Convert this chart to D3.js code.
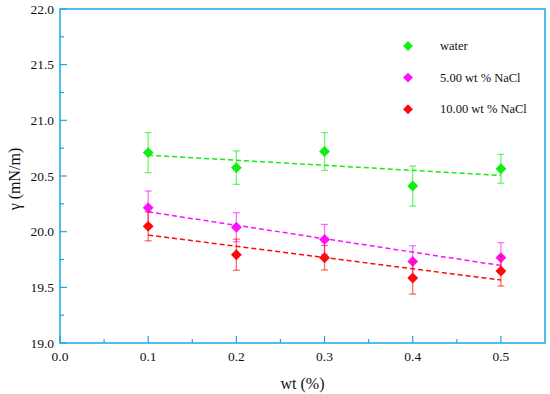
<!DOCTYPE html>
<html lang="en">
<head>
<meta charset="UTF-8">
<title>Surface tension vs wt</title>
<script src="https://d3js.org/d3.v7.min.js"></script>
<style>
    body { margin: 0; background: #fff; }
</style>
</head>
<body>
<div id="chart"></div>
<script>
    // values
    const wt = [0.1, 0.2, 0.3, 0.4, 0.5];
    const seriesNames = ["water", "5.00 wt % NaCl", "10.00 wt % NaCl"];
    const seriesColors = ["#11ee11", "#ff11ff", "#ff0a0a"];
    const waterY = [20.71, 20.575, 20.72, 20.41, 20.565];
    const waterErr = [0.18, 0.15, 0.17, 0.18, 0.13];
    const nacl5Y = [20.215, 20.04, 19.93, 19.733, 19.766];
    const nacl5Err = [0.15, 0.13, 0.135, 0.14, 0.135];
    const nacl10Y = [20.048, 19.793, 19.766, 19.584, 19.647];
    const nacl10Err = [0.13, 0.14, 0.11, 0.145, 0.135];
    const xTicks = [0.0, 0.1, 0.2, 0.3, 0.4, 0.5];
    const yTicks = [19.0, 19.5, 20.0, 20.5, 21.0, 21.5, 22.0];

    const w = 550, h = 394;
    const m = {top: 9, right: 5, bottom: 51, left: 60};

    const svg = d3.select("#chart").append("svg")
        .attr("width", w).attr("height", h);

    const x = d3.scaleLinear().domain([0, 0.55]).range([m.left, w - m.right]);
    const y = d3.scaleLinear().domain([19, 22]).range([h - m.bottom, m.top]);

    const axisColor = "#1aa7ec";

    function label(sel) {
        return sel.style("font-family", '"Liberation Serif"').attr("fill", "#111");
    }

    // minor ticks
    const xMinor = d3.range(0.05, 0.55, 0.1);
    const yMinor = d3.range(19.25, 22, 0.5);

    svg.append("g").selectAll("line").data(xMinor).join("line")
        .attr("x1", d => x(d)).attr("x2", d => x(d))
        .attr("y1", y(19)).attr("y2", y(19) - 4)
        .attr("stroke", axisColor).attr("stroke-width", 1.2);
    svg.append("g").selectAll("line").data(xTicks).join("line")
        .attr("x1", d => x(d)).attr("x2", d => x(d))
        .attr("y1", y(19)).attr("y2", y(19) - 7)
        .attr("stroke", axisColor).attr("stroke-width", 1.2);
    svg.append("g").selectAll("line").data(yMinor).join("line")
        .attr("x1", x(0)).attr("x2", x(0) + 4)
        .attr("y1", d => y(d)).attr("y2", d => y(d))
        .attr("stroke", axisColor).attr("stroke-width", 1.2);
    svg.append("g").selectAll("line").data(yTicks).join("line")
        .attr("x1", x(0)).attr("x2", x(0) + 7)
        .attr("y1", d => y(d)).attr("y2", d => y(d))
        .attr("stroke", axisColor).attr("stroke-width", 1.2);

    // frame
    svg.append("rect")
        .attr("x", x(0)).attr("y", y(22))
        .attr("width", x(0.55) - x(0)).attr("height", y(19) - y(22))
        .attr("fill", "none").attr("stroke", axisColor).attr("stroke-width", 1.5);

    // tick labels
    svg.append("g").selectAll("text").data(xTicks).join("text")
        .attr("x", d => x(d)).attr("y", y(19) + 18)
        .attr("text-anchor", "middle").attr("font-size", 13.5)
        .text(d => d3.format(".1f")(d))
        .call(label);
    svg.append("g").selectAll("text").data(yTicks).join("text")
        .attr("x", x(0) - 6).attr("y", d => y(d) + 4.5)
        .attr("text-anchor", "end").attr("font-size", 13.5)
        .text(d => d3.format(".1f")(d))
        .call(label);

    svg.append("text")
        .attr("x", (x(0) + x(0.55)) / 2).attr("y", 389)
        .attr("text-anchor", "middle").attr("font-size", 16)
        .text("wt (%)")
        .call(label);
    svg.append("text")
        .attr("transform", `translate(20,${(y(19) + y(22)) / 2 + 3}) rotate(-90)`)
        .attr("text-anchor", "middle").attr("font-size", 16)
        .text("γ (mN/m)")
        .call(label);

    const series = [
        {name: seriesNames[0], color: seriesColors[0], ys: waterY, errs: waterErr},
        {name: seriesNames[1], color: seriesColors[1], ys: nacl5Y, errs: nacl5Err},
        {name: seriesNames[2], color: seriesColors[2], ys: nacl10Y, errs: nacl10Err}
    ];

    const diamond = d3.symbol().type(d3.symbolDiamond2).size(75);
    const legendDiamond = d3.symbol().type(d3.symbolDiamond2).size(62);

    // least squares fit for the dashed lines
    function fit(xs, ys) {
        const mx = d3.mean(xs), my = d3.mean(ys);
        let num = 0, den = 0;
        xs.forEach((v, i) => { num += (v - mx) * (ys[i] - my); den += (v - mx) ** 2; });
        const b = num / den;
        return v => my + b * (v - mx);
    }

    series.forEach(s => {
        const g = svg.append("g");
        const f = fit(wt, s.ys);
        g.append("line")
            .attr("x1", x(wt[0])).attr("y1", y(f(wt[0])))
            .attr("x2", x(wt[wt.length - 1])).attr("y2", y(f(wt[wt.length - 1])))
            .attr("stroke", s.color).attr("stroke-width", 1.5)
            .attr("stroke-dasharray", "5,3");

        const pts = wt.map((v, i) => ({x: v, y: s.ys[i], e: s.errs[i]}));
        const eb = g.append("g").attr("stroke", s.color).attr("stroke-opacity", 0.6).attr("stroke-width", 1.3);
        eb.selectAll(".v").data(pts).join("line")
            .attr("x1", d => x(d.x)).attr("x2", d => x(d.x))
            .attr("y1", d => y(d.y - d.e)).attr("y2", d => y(d.y + d.e));
        eb.selectAll(".t").data(pts).join("line")
            .attr("x1", d => x(d.x) - 3.5).attr("x2", d => x(d.x) + 3.5)
            .attr("y1", d => y(d.y + d.e)).attr("y2", d => y(d.y + d.e));
        eb.selectAll(".b").data(pts).join("line")
            .attr("x1", d => x(d.x) - 3.5).attr("x2", d => x(d.x) + 3.5)
            .attr("y1", d => y(d.y - d.e)).attr("y2", d => y(d.y - d.e));

        g.selectAll("path.pt").data(pts).join("path")
            .attr("class", "pt")
            .attr("transform", d => `translate(${x(d.x)},${y(d.y)})`)
            .attr("d", diamond).attr("fill", s.color);
    });

    // legend
    const lg = svg.append("g");
    series.forEach((s, i) => {
        const ly = 46 + i * 31.6;
        lg.append("path").attr("transform", `translate(408,${ly})`)
            .attr("d", legendDiamond).attr("fill", s.color);
        lg.append("text").attr("x", 440).attr("y", ly + 4)
            .attr("font-size", 12.5).text(s.name)
            .call(label);
    });
</script>
</body>
</html>
